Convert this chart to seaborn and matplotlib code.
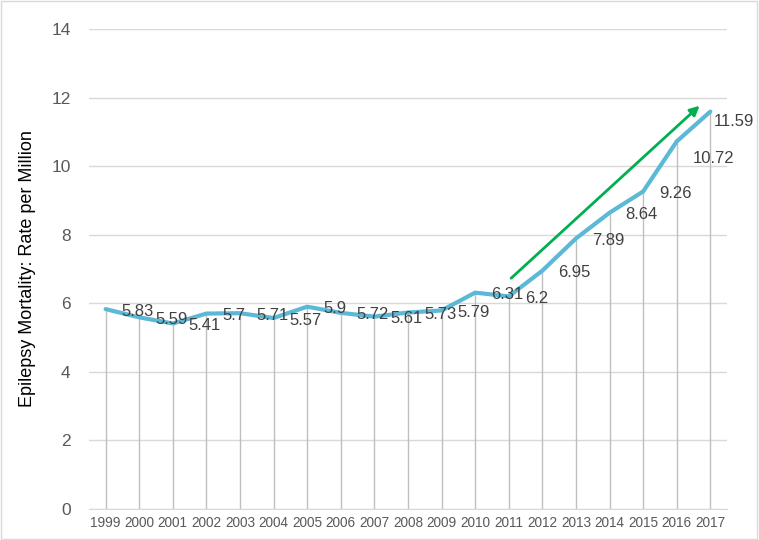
import matplotlib.pyplot as plt
import matplotlib.patches as patches
from matplotlib import font_manager
import seaborn as sns

years = list(range(1999, 2018))
rates = [5.83, 5.59, 5.41, 5.7, 5.71, 5.57, 5.9, 5.72, 5.61, 5.73, 5.79,
         6.31, 6.2, 6.95, 7.89, 8.64, 9.26, 10.72, 11.59]
y_ticks = [0, 2, 4, 6, 8, 10, 12, 14]

# trend arrow (year, rate) at both ends
trend_start = (2011.07, 6.73)
trend_end = (2016.68, 11.76)

sns.set_style('white')
plt.rcParams['font.family'] = ['Liberation Sans', 'DejaVu Sans']

# narrow face for the crowded year labels, if it is there
names = {f.name for f in font_manager.fontManager.ttflist}
if 'Liberation Sans Narrow' in names:
    year_font, year_size = 'Liberation Sans Narrow', 11.5
else:
    year_font, year_size = 'Liberation Sans', 9.8

fig = plt.figure(figsize=(7.59, 5.40), dpi=100)
ax = fig.add_axes([0.117, 0.0574, 0.841, 0.889])

# drop lines from each point to the axis
ax.vlines(years, 0, rates, color='#BFBFBF', lw=1, zorder=1)
sns.lineplot(x=years, y=rates, color='#5BB8D6', lw=3, ax=ax, zorder=3)

# data labels, mostly to the right of the point
for yr, v in zip(years, rates):
    off = (16, -2)
    if yr == 2016:
        off = (16, -17)
    elif yr == 2017:
        off = (3, -10)
    ax.annotate(f'{v:g}', (yr, v), xytext=off, textcoords='offset pixels',
                ha='left', va='center', fontsize=12, color='#404040', zorder=4)

ax.annotate('', xy=trend_end, xytext=trend_start,
            arrowprops=dict(arrowstyle='-|>', color='#00B050', lw=2,
                            mutation_scale=14, shrinkA=0, shrinkB=0), zorder=5)

ax.set_xlim(1998.5, 2017.5)
ax.set_ylim(0, 14)
ax.set_yticks(y_ticks)
ax.set_xticks(years)
ax.set_xticklabels([str(y) for y in years], family=year_font,
                   fontsize=year_size, color='#595959')
ax.tick_params(axis='y', labelsize=12.5, labelcolor='#595959', length=0, pad=13)
ax.tick_params(axis='x', length=0, pad=5)
ax.yaxis.grid(True, color='#D9D9D9', lw=1)
ax.set_axisbelow(True)

for s in ['top', 'right', 'left']:
    ax.spines[s].set_visible(False)
ax.spines['bottom'].set_color('#D9D9D9')

ax.set_ylabel('Epilepsy Mortality: Rate per Million', fontsize=13, color='black', labelpad=11)

fig.patches.append(patches.Rectangle((0.001, 0.001), 0.997, 0.997, transform=fig.transFigure,
                                     fill=False, edgecolor='#D9D9D9', lw=1))

fig.savefig('out.png', dpi=100)
